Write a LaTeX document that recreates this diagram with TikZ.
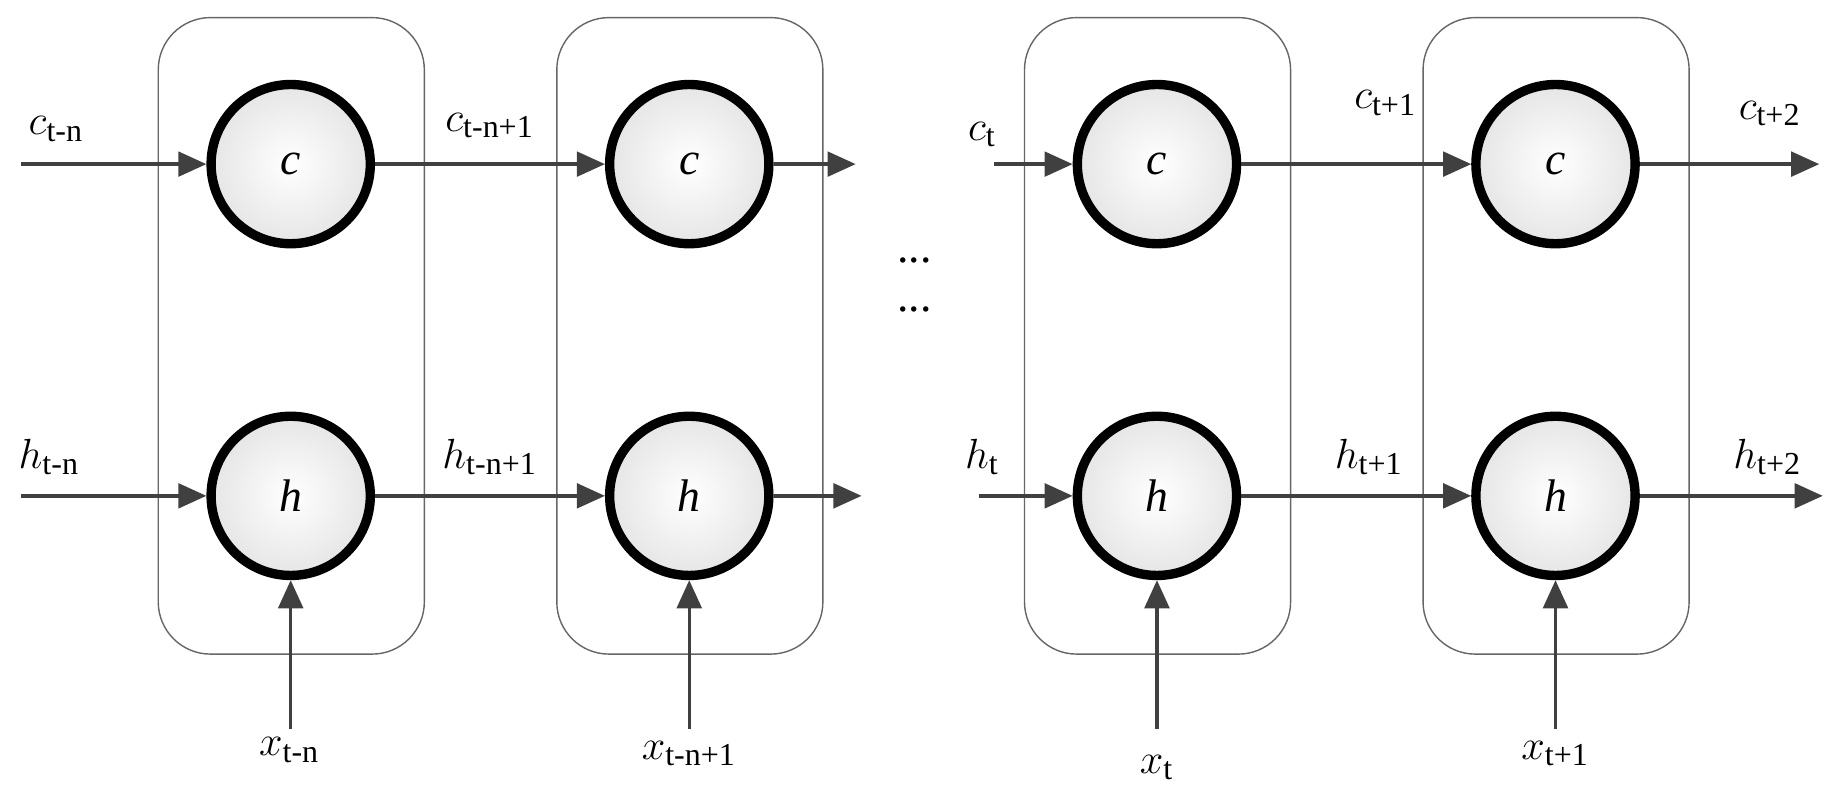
\documentclass[tikz,border=0pt]{standalone}
\usepackage{fontspec}
\setmainfont{Liberation Serif}
\usetikzlibrary{arrows.meta}
\begin{document}
\begin{tikzpicture}[x=0.011722cm,y=-0.011722cm,
 cell/.style={draw=black!60,line width=0.4pt,rounded corners=45pt*0.33},
 unit/.style={circle,draw=black,line width=8*0.333pt,minimum size=136*0.333pt,inner color=white,outer color=black!10,font=\fontsize{13}{15}\selectfont\itshape},
 arr/.style={draw=black!75,line width=3*0.333pt,-{Triangle[length=8pt,width=7pt]}},
 lab/.style={font=\fontsize{13}{15}\selectfont,inner sep=0pt}]
\useasboundingbox (0,0) rectangle (1568,684);
\foreach \i/\x in {1/248,2/588,3/987,4/1327}{
  \draw[cell] (\x-113,15) rectangle (\x+114,558);
  \node[unit] (c\i) at (\x,140) {c};
  \node[unit] (h\i) at (\x,423) {h};
  \coordinate (xs\i) at (\x,622);
}
\coordinate (ci1) at (18,140); \coordinate (hi1) at (18,423);
\coordinate (ci3) at (848,140); \coordinate (hi3) at (835,423);
\coordinate (co2) at (730,140); \coordinate (ho2) at (735,423);
\coordinate (co4) at (1552,140); \coordinate (ho4) at (1555,423);
\draw[arr] (ci1) -- (c1); \draw[arr] (hi1) -- (h1);
\draw[arr] (c1) -- (c2); \draw[arr] (h1) -- (h2);
\draw[arr] (c2) -- (co2); \draw[arr] (h2) -- (ho2);
\draw[arr] (ci3) -- (c3); \draw[arr] (hi3) -- (h3);
\draw[arr] (c3) -- (c4); \draw[arr] (h3) -- (h4);
\draw[arr] (c4) -- (co4); \draw[arr] (h4) -- (ho4);
\foreach \i in {1,2,3,4}{\draw[arr] (xs\i) -- (h\i);}
\node[lab] (l1) at (48,110) {$c$\textsubscript{t-n}};
\node[lab] (l2) at (418,107) {$c$\textsubscript{t-n+1}};
\node[lab] (l3) at (838,115) {$c$\textsubscript{t}};
\node[lab] (l4) at (1182,88) {$c$\textsubscript{t+1}};
\node[lab] (l5) at (1510,97) {$c$\textsubscript{t+2}};
\node[lab] (m1) at (42,390) {$h$\textsubscript{t-n}};
\node[lab] (m2) at (418,390) {$h$\textsubscript{t-n+1}};
\node[lab] (m3) at (838,390) {$h$\textsubscript{t}};
\node[lab] (m4) at (1168,390) {$h$\textsubscript{t+1}};
\node[lab] (m5) at (1508,390) {$h$\textsubscript{t+2}};
\node[lab] (n1) at (247,640) {$x$\textsubscript{t-n}};
\node[lab] (n2) at (588,643) {$x$\textsubscript{t-n+1}};
\node[lab] (n3) at (987,655) {$x$\textsubscript{t}};
\node[lab] (n4) at (1327,643) {$x$\textsubscript{t+1}};
\node[lab] (d1) at (780,222) {...};
\node[lab] (d2) at (780,264) {...};
\end{tikzpicture}
\end{document}
